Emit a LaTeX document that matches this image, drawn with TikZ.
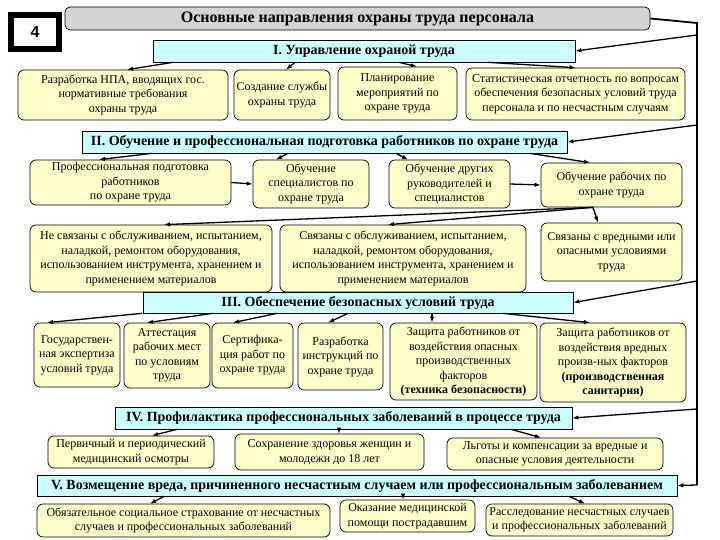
\documentclass[tikz,border=0pt]{standalone}
\usepackage{fontspec}
\setmainfont{Liberation Serif}
\newfontfamily\arialfont{Liberation Sans}
\usetikzlibrary{arrows.meta}
\definecolor{boxyellow}{RGB}{255,255,204}
\definecolor{headcyan}{RGB}{204,255,255}
\definecolor{titlegrey}{RGB}{212,212,212}

\begin{document}
\begin{tikzpicture}[x=1pt,y=-1pt,
    box/.style={draw, rounded corners=6pt, fill=boxyellow, align=center, inner sep=1pt, line width=0.7pt, font=\fontsize{12}{14.5}\selectfont},
    head/.style={draw, fill=headcyan, inner sep=1pt, line width=0.7pt, font=\fontsize{14}{16}\selectfont\bfseries},
    arr/.style={-{Latex[length=6pt,width=4.5pt]}, line width=1.3pt},
    bus/.style={line width=1.8pt}]
\useasboundingbox (0,0) rectangle (720,540);
% Number and title
\node[draw, line width=6pt, minimum width=48pt, minimum height=34pt, font=\arialfont\bfseries\fontsize{16}{18}\selectfont] (num) at (35,32) {4};
\node[draw, fill=titlegrey, rounded corners=5pt, line width=0.7pt, minimum width=585pt, minimum height=23pt, font=\fontsize{16}{18}\selectfont\bfseries] (title) at (357.5,18.5) {Основные направления охраны труда персонала};
% I. Management
\node[head, minimum width=422pt, minimum height=22pt] (hI) at (364,51) {I. Управление охраной труда};
\node[box, minimum width=210pt, minimum height=50pt] (rA) at (123,95) {Разработка НПА, вводящих гос.\\нормативные требования\\охраны труда};
\node[box, minimum width=96pt, minimum height=50pt] (rB) at (282,95) {Создание службы\\охраны труда};
\node[box, minimum width=119pt, minimum height=53pt] (rC) at (397.5,93.5) {Планирование\\мероприятий по\\охране труда};
\node[box, minimum width=219pt, minimum height=52pt] (rD) at (575.5,94) {Статистическая отчетность по вопросам\\обеспечения безопасных условий труда\\персонала и по несчастным случаям};
\draw[arr] ([xshift=-191pt]hI.south) -- ([xshift=4pt]rA.north);
\draw[arr] ([xshift=-69pt]hI.south) -- ([xshift=4pt]rB.north);
\draw[arr] ([xshift=35pt]hI.south) -- ([xshift=19.5pt]rC.north);
\draw[arr] ([xshift=124pt]hI.south) -- (rD.north);
% II. Training
\node[head, minimum width=485pt, minimum height=22pt] (hII) at (324.5,142) {II. Обучение и профессиональная подготовка работников по охране труда};
\node[box, minimum width=201pt, minimum height=45pt] (rE) at (130.5,182.5) {Профессиональная подготовка\\работников\\по охране труда};
\node[box, minimum width=116pt, minimum height=48pt] (rF) at (311,184) {Обучение\\специалистов по\\охране труда};
\node[box, minimum width=121pt, minimum height=48pt] (rG) at (449.5,184) {Обучение других\\руководителей и\\специалистов};
\node[box, minimum width=141pt, minimum height=44pt] (rH) at (611.5,185) {Обучение рабочих по\\охране труда};
\draw[arr] ([xshift=-172.5pt]hII.south) -- ([xshift=-31.5pt]rE.north);
\draw[arr] ([xshift=-36.5pt]hII.south) -- ([xshift=-35pt]rF.north);
\draw[arr] ([xshift=71.5pt]hII.south) -- ([xshift=-41.5pt]rG.north);
\draw[arr] ([xshift=205.5pt]hII.south) -- ([xshift=-21.5pt]rH.north);
\draw[arr] (rE.east) -- (rF.west);
\draw[arr] (rG.east) -- (rH.west);
% Workers
\node[box, minimum width=242pt, minimum height=67pt] (rI) at (151,258.5) {Не связаны с обслуживанием, испытанием,\\наладкой, ремонтом оборудования,\\использованием инструмента, хранением и\\применением материалов};
\node[box, minimum width=246pt, minimum height=67pt] (rJ) at (403,258.5) {Связаны с обслуживанием, испытанием,\\наладкой, ремонтом оборудования,\\использованием инструмента, хранением и\\применением материалов};
\node[box, minimum width=141pt, minimum height=58pt] (rK) at (611.5,252) {Связаны с вредными или\\опасными условиями\\труда};
\draw[arr] ([xshift=-18.5pt]rH.south) -- ([xshift=13pt]rI.north);
\draw[arr] ([xshift=-18.5pt]rH.south) -- ([xshift=-15pt]rJ.north);
\draw[arr] ([xshift=-18.5pt]rH.south) -- ([xshift=-13.5pt]rK.north);
% III. Safe conditions
\node[head, minimum width=430pt, minimum height=21pt] (hIII) at (358,302.5) {III. Обеспечение безопасных условий труда};
\node[box, minimum width=86pt, minimum height=64pt] (rL) at (77,355) {Государствен-\\ная экспертиза\\условий труда};
\node[box, minimum width=86pt, minimum height=65pt] (rM) at (167,355.5) {Аттестация\\рабочих мест\\по условиям\\труда};
\node[box, minimum width=81pt, minimum height=65pt] (rN) at (252.5,355.5) {Сертифика-\\ция работ по\\охране труда};
\node[box, minimum width=85pt, minimum height=67pt] (rO) at (340.5,356.5) {Разработка\\инструкций по\\охране труда};
\node[box, minimum width=147pt, minimum height=77pt] (rP) at (463.5,361.5) {Защита работников от\\воздействия опасных\\производственных\\факторов\\\textbf{(техника безопасности)}};
\node[box, minimum width=146pt, minimum height=79pt] (rQ) at (613,362.5) {Защита работников от\\воздействия вредных\\произв-ных факторов\\\textbf{(производственная}\\\textbf{санитария)}};
\draw[arr] ([xshift=-216pt]hIII.south) -- ([xshift=-30pt]rL.north);
\draw[arr] ([xshift=-145pt]hIII.south) -- ([xshift=-20pt]rM.north);
\draw[arr] ([xshift=-81pt]hIII.south) -- ([xshift=-19.5pt]rN.north);
\draw[arr] ([xshift=-10pt]hIII.south) -- ([xshift=-12.5pt]rO.north);
\draw[arr] ([xshift=74pt]hIII.south) -- ([xshift=-31.5pt]rP.north);
\draw[arr] ([xshift=145pt]hIII.south) -- ([xshift=-23pt]rQ.north);
% IV. Prevention
\node[head, minimum width=457pt, minimum height=22pt] (hIV) at (343.5,418) {IV. Профилактика профессиональных заболеваний в процессе труда};
\node[box, minimum width=166pt, minimum height=32pt] (rR) at (131,452) {Первичный и периодический\\медицинский осмотры};
\node[box, minimum width=189pt, minimum height=36pt] (rS) at (329.5,452) {Сохранение здоровья женщин и\\молодежи до 18 лет};
\node[box, minimum width=216pt, minimum height=32pt] (rT) at (555,454) {Льготы и компенсации за вредные и\\опасные условия деятельности};
\draw[arr] ([xshift=-166.5pt]hIV.south) -- ([xshift=21pt]rR.north);
\draw[arr] ([xshift=-4.5pt]hIV.south) -- ([xshift=9.5pt]rS.north);
\draw[arr] ([xshift=167.5pt]hIV.south) -- ([xshift=-14pt]rT.north);
% V. Compensation
\node[head, minimum width=640pt, minimum height=21pt] (hV) at (357,485.5) {V. Возмещение вреда, причиненного несчастным случаем или профессиональным заболеванием};
\node[box, minimum width=293pt, minimum height=33pt] (rU) at (183.5,520.5) {Обязательное социальное страхование от несчастных\\случаев и профессиональных заболеваний};
\node[box, minimum width=135pt, minimum height=32pt] (rV) at (407.5,516) {Оказание медицинской\\помощи пострадавшим};
\node[box, minimum width=187pt, minimum height=32pt] (rW) at (579.5,520) {Расследование несчастных случаев\\и профессиональных заболеваний};
\draw[arr] ([xshift=-193pt]hV.south) -- ([xshift=-33.5pt]rU.north);
\draw[arr] ([xshift=46pt]hV.south) -- ([xshift=-4.5pt]rV.north);
\draw[arr] ([xshift=212pt]hV.south) -- ([xshift=5.5pt]rW.north);
% Right-hand bus
\coordinate (bt) at (697,23);
\coordinate (b1) at (697,35);
\coordinate (b2) at (697,125);
\coordinate (b3) at (697,281);
\coordinate (b4) at (697,409);
\coordinate (bb) at (697,485);
\draw[bus] (title.east) -- (bt) -- (bb);
\draw[arr] (b1) -- (hI.east);
\draw[arr] (b2) -- (hII.east);
\draw[arr] (b3) -- (hIII.east);
\draw[arr] (b4) -- (hIV.east);
\draw[arr] (bb) -- (hV.east);
\end{tikzpicture}
\end{document}
